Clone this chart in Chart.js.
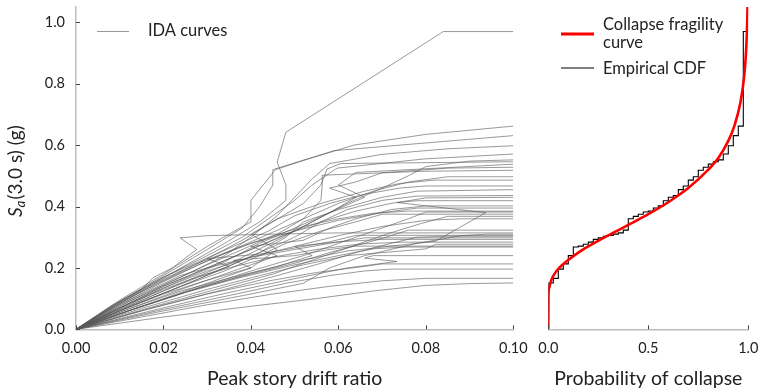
<!DOCTYPE html>
<html><head><meta charset="utf-8">
<script src="https://cdn.jsdelivr.net/npm/chart.js@4"></script>
<style>
html,body{margin:0;padding:0;background:#fff;width:759px;height:389px;overflow:hidden;}
#l{position:absolute;left:0;top:0;}
#r{position:absolute;left:530px;top:0;}
</style></head><body>
<canvas id="l" width="530" height="389"></canvas>
<canvas id="r" width="229" height="389"></canvas>
<script>
// ---- tick values ----
const driftTicks = [0, 0.02, 0.04, 0.06, 0.08, 0.10];
const saTicks = [0, 0.2, 0.4, 0.6, 0.8, 1.0];
const probTicks = [0, 0.5, 1.0];

// ---- collapse intensities (sorted), one per record ----
const collapseSa = [0.151,0.166,0.196,0.213,0.240,0.268,0.271,0.277,0.284,0.293,
  0.298,0.303,0.306,0.310,0.314,0.323,0.360,0.368,0.375,0.382,
  0.385,0.395,0.402,0.419,0.430,0.436,0.455,0.467,0.486,0.497,
  0.518,0.528,0.538,0.546,0.552,0.571,0.598,0.631,0.662,0.970];

// ---- fitted lognormal fragility curve ----
const fragProb = [0,0.001,0.005,0.01,0.02,0.04,0.07,0.10,0.15,0.20,0.30,0.40,0.50,0.60,0.70,0.80,0.85,0.90,0.93,0.96,0.98,0.99,0.995,0.997];
const fragSa   = [0,0.111,0.136,0.150,0.168,0.189,0.210,0.226,0.250,0.270,0.306,0.340,0.375,0.414,0.460,0.520,0.558,0.614,0.662,0.737,0.828,0.920,1.012,1.082];

// ---- IDA curves: [peak story drift ratio, Sa(3.0 s)] ----
const ida01 = [[0,0],[0.02,0.04],[0.04,0.075],[0.055,0.10],[0.068,0.125],[0.08,0.143],[0.09,0.149],[0.1,0.151]];
const ida02 = [[0,0],[0.015,0.04],[0.03,0.08],[0.045,0.115],[0.058,0.14],[0.07,0.158],[0.08,0.166],[0.1,0.166]];
const ida03 = [[0,0],[0.02,0.065],[0.035,0.11],[0.048,0.15],[0.058,0.175],[0.066,0.19],[0.072,0.196],[0.1,0.196]];
const ida04 = [[0,0],[0.015,0.06],[0.03,0.115],[0.045,0.16],[0.055,0.185],[0.066,0.205],[0.07,0.213],[0.1,0.213]];
const ida05 = [[0,0],[0.02,0.07],[0.035,0.12],[0.05,0.165],[0.062,0.20],[0.0734,0.221],[0.066,0.232],[0.068,0.240],[0.1,0.240]];
const ida06 = [[0,0],[0.012,0.06],[0.025,0.12],[0.038,0.17],[0.05,0.21],[0.06,0.24],[0.068,0.262],[0.075,0.268],[0.1,0.268]];
const ida07 = [[0,0],[0.01,0.06],[0.02,0.115],[0.03,0.16],[0.04,0.20],[0.036,0.225],[0.05,0.24],[0.058,0.26],[0.064,0.271],[0.1,0.271]];
const ida08 = [[0,0],[0.015,0.068],[0.03,0.13],[0.042,0.175],[0.052,0.21],[0.062,0.24],[0.08,0.262],[0.0822,0.277],[0.1,0.277]];
const ida09 = [[0,0],[0.01,0.07],[0.02,0.13],[0.0276,0.17],[0.035,0.20],[0.045,0.235],[0.055,0.26],[0.065,0.278],[0.075,0.284],[0.1,0.284]];
const ida10 = [[0,0],[0.012,0.066],[0.024,0.125],[0.036,0.17],[0.046,0.205],[0.054,0.24],[0.05,0.27],[0.06,0.285],[0.07,0.293],[0.1,0.293]];
const ida11 = [[0,0],[0.01,0.08],[0.018,0.135],[0.0238,0.175],[0.03,0.20],[0.04,0.235],[0.05,0.26],[0.058,0.28],[0.066,0.298],[0.1,0.298]];
const ida12 = [[0,0],[0.018,0.072],[0.034,0.13],[0.046,0.175],[0.056,0.215],[0.064,0.25],[0.072,0.28],[0.078,0.30],[0.085,0.303],[0.1,0.303]];
const ida13 = [[0,0],[0.01,0.065],[0.02,0.125],[0.028,0.17],[0.035,0.205],[0.03,0.23],[0.042,0.245],[0.05,0.265],[0.058,0.285],[0.064,0.306],[0.1,0.306]];
const ida14 = [[0,0],[0.02,0.06],[0.04,0.115],[0.052,0.15],[0.058,0.20],[0.066,0.24],[0.078,0.28],[0.088,0.305],[0.094,0.31],[0.1,0.31]];
const ida15 = [[0,0],[0.008,0.072],[0.015,0.13],[0.0176,0.168],[0.022,0.20],[0.0276,0.26],[0.0238,0.298],[0.03,0.305],[0.045,0.31],[0.06,0.314],[0.1,0.314]];
const ida16 = [[0,0],[0.014,0.07],[0.028,0.135],[0.04,0.18],[0.05,0.215],[0.058,0.25],[0.066,0.28],[0.072,0.305],[0.076,0.323],[0.1,0.323]];
const ida17 = [[0,0],[0.01,0.07],[0.02,0.135],[0.03,0.19],[0.04,0.235],[0.05,0.27],[0.06,0.305],[0.07,0.335],[0.08,0.355],[0.088,0.36],[0.1,0.36]];
const ida18 = [[0,0],[0.016,0.067],[0.032,0.13],[0.045,0.18],[0.055,0.23],[0.063,0.27],[0.071,0.31],[0.079,0.345],[0.085,0.368],[0.1,0.368]];
const ida19 = [[0,0],[0.012,0.072],[0.024,0.14],[0.034,0.19],[0.042,0.24],[0.048,0.28],[0.056,0.32],[0.064,0.35],[0.07,0.375],[0.1,0.375]];
const ida20 = [[0,0],[0.014,0.07],[0.028,0.135],[0.04,0.19],[0.052,0.24],[0.062,0.29],[0.07,0.33],[0.076,0.36],[0.08,0.382],[0.1,0.382]];
const ida21 = [[0,0],[0.008,0.068],[0.016,0.13],[0.024,0.185],[0.032,0.235],[0.04,0.28],[0.05,0.32],[0.06,0.355],[0.07,0.38],[0.078,0.395],[0.1,0.395]];
const ida22 = [[0,0],[0.012,0.066],[0.024,0.13],[0.036,0.19],[0.046,0.24],[0.04,0.27],[0.052,0.29],[0.058,0.33],[0.064,0.36],[0.072,0.39],[0.08,0.402],[0.1,0.402]];
const ida23 = [[0,0],[0.012,0.06],[0.025,0.12],[0.038,0.175],[0.05,0.22],[0.062,0.255],[0.0822,0.287],[0.0937,0.38],[0.0734,0.413],[0.078,0.419],[0.1,0.419]];
const ida24 = [[0,0],[0.01,0.07],[0.02,0.14],[0.03,0.20],[0.04,0.26],[0.048,0.31],[0.056,0.35],[0.064,0.385],[0.072,0.41],[0.08,0.428],[0.1,0.430]];
const ida25 = [[0,0],[0.012,0.072],[0.024,0.14],[0.034,0.20],[0.042,0.25],[0.048,0.30],[0.052,0.35],[0.06,0.39],[0.07,0.43],[0.078,0.45],[0.1,0.455]];
const ida26 = [[0,0],[0.008,0.076],[0.0147,0.129],[0.02,0.17],[0.028,0.22],[0.036,0.27],[0.044,0.32],[0.05,0.37],[0.058,0.41],[0.066,0.44],[0.074,0.46],[0.08,0.467],[0.1,0.467]];
const ida27 = [[0,0],[0.014,0.07],[0.028,0.14],[0.04,0.20],[0.046,0.26],[0.04,0.31],[0.046,0.36],[0.056,0.41],[0.066,0.45],[0.074,0.475],[0.082,0.486],[0.1,0.486]];
const ida28 = [[0,0],[0.01,0.075],[0.02,0.145],[0.03,0.21],[0.038,0.26],[0.046,0.31],[0.052,0.36],[0.06,0.41],[0.068,0.45],[0.076,0.48],[0.085,0.497],[0.1,0.497]];
const ida29 = [[0,0],[0.012,0.072],[0.024,0.14],[0.034,0.20],[0.042,0.25],[0.05,0.30],[0.056,0.35],[0.062,0.39],[0.07,0.42],[0.078,0.434],[0.1,0.436]];
const ida30 = [[0,0],[0.01,0.08],[0.02,0.155],[0.028,0.21],[0.036,0.26],[0.044,0.31],[0.052,0.36],[0.056,0.42],[0.0563,0.47],[0.0563,0.502],[0.0796,0.515],[0.1,0.518]];
const ida31 = [[0,0],[0.01,0.07],[0.02,0.14],[0.03,0.20],[0.04,0.26],[0.05,0.32],[0.058,0.38],[0.064,0.43],[0.058,0.46],[0.064,0.48],[0.07,0.51],[0.085,0.525],[0.1,0.528]];
const ida32 = [[0,0],[0.012,0.08],[0.024,0.16],[0.034,0.22],[0.042,0.28],[0.05,0.33],[0.058,0.38],[0.066,0.43],[0.06,0.47],[0.064,0.511],[0.1,0.538]];
const ida33 = [[0,0],[0.01,0.085],[0.02,0.16],[0.03,0.23],[0.038,0.29],[0.045,0.35],[0.052,0.41],[0.056,0.47],[0.0574,0.522],[0.0605,0.540],[0.1,0.546]];
const ida34 = [[0,0],[0.012,0.075],[0.024,0.15],[0.036,0.22],[0.046,0.29],[0.054,0.35],[0.062,0.41],[0.07,0.46],[0.076,0.50],[0.08,0.53],[0.09,0.548],[0.1,0.552]];
const ida35 = [[0,0],[0.009,0.08],[0.018,0.15],[0.027,0.21],[0.036,0.26],[0.044,0.30],[0.052,0.335],[0.06,0.36],[0.068,0.378],[0.076,0.385],[0.1,0.385]];
const ida36 = [[0,0],[0.01,0.09],[0.02,0.17],[0.03,0.24],[0.038,0.30],[0.044,0.36],[0.05,0.42],[0.054,0.47],[0.0597,0.525],[0.0796,0.555],[0.1,0.571]];
const ida37 = [[0,0],[0.012,0.09],[0.024,0.17],[0.034,0.24],[0.04,0.30],[0.046,0.37],[0.05,0.43],[0.054,0.49],[0.058,0.54],[0.07,0.57],[0.085,0.588],[0.1,0.598]];
const ida38 = [[0,0],[0.01,0.09],[0.02,0.175],[0.03,0.26],[0.038,0.33],[0.042,0.40],[0.045,0.47],[0.045,0.52],[0.059,0.582],[0.1,0.631]];
const ida39 = [[0,0],[0.01,0.095],[0.02,0.18],[0.03,0.27],[0.04,0.35],[0.04,0.42],[0.0456,0.52],[0.052,0.55],[0.0635,0.60],[0.08,0.635],[0.1,0.662]];
const ida40 = [[0,0],[0.012,0.10],[0.024,0.20],[0.034,0.28],[0.042,0.35],[0.048,0.42],[0.048,0.47],[0.046,0.545],[0.048,0.642],[0.084,0.97],[0.1,0.97]];
const idaCurves = [ida01,ida02,ida03,ida04,ida05,ida06,ida07,ida08,ida09,ida10,ida11,ida12,ida13,ida14,ida15,ida16,ida17,ida18,ida19,ida20,
  ida21,ida22,ida23,ida24,ida25,ida26,ida27,ida28,ida29,ida30,ida31,ida32,ida33,ida34,ida35,ida36,ida37,ida38,ida39,ida40];

// ---- styling ----
const FONT = 'Lato, "Open Sans", sans-serif';
const TXT = '#222';
const AXIS = '#bdbdbd';
const TICKMARK = '#444';
const L = {top: 7, bottom: 329.3};

function inwardTicks(chart, xVals, yVals) {
  const ctx = chart.ctx, a = chart.chartArea, xs = chart.scales.x, ys = chart.scales.y;
  ctx.save(); ctx.strokeStyle = TICKMARK; ctx.lineWidth = 1;
  ctx.beginPath();
  xVals.forEach(v => { const x = Math.round(xs.getPixelForValue(v)) + 0.5; ctx.moveTo(x, a.bottom); ctx.lineTo(x, a.bottom - 4); });
  (yVals || []).forEach(v => { const y = Math.round(ys.getPixelForValue(v)) + 0.5; ctx.moveTo(a.left, y); ctx.lineTo(a.left + 4, y); });
  ctx.stroke(); ctx.restore();
}

const leftDecor = {
  id: 'leftDecor',
  afterDraw(chart) {
    const ctx = chart.ctx, a = chart.chartArea;
    inwardTicks(chart, driftTicks, saTicks);
    ctx.save();
    ctx.fillStyle = TXT;
    ctx.font = '19.5px ' + FONT; ctx.textAlign = 'center'; ctx.textBaseline = 'alphabetic';
    ctx.fillText('Peak story drift ratio', (a.left + a.right) / 2, 385);
    // y title: S_a(3.0 s) (g)
    ctx.translate(16, (a.top + a.bottom) / 2 + 3);
    ctx.rotate(-Math.PI / 2);
    ctx.textAlign = 'left'; ctx.textBaseline = 'middle';
    const fMain = '19px ' + FONT, fIt = 'italic 19px ' + FONT, fSub = 'italic 13.5px ' + FONT;
    ctx.font = fIt; const wS = ctx.measureText('S').width;
    ctx.font = fSub; const wA = ctx.measureText('a').width;
    ctx.font = fMain; const wR = ctx.measureText('(3.0 s) (g)').width;
    let x0 = -(wS + wA + 1 + wR) / 2;
    ctx.font = fIt; ctx.fillText('S', x0, 0); x0 += wS;
    ctx.font = fSub; ctx.fillText('a', x0, 5); x0 += wA + 1;
    ctx.font = fMain; ctx.fillText('(3.0 s) (g)', x0, 0);
    ctx.restore();
    // legend
    ctx.save();
    ctx.strokeStyle = '#9a9a9a'; ctx.lineWidth = 1;
    ctx.beginPath(); ctx.moveTo(97, 31.5); ctx.lineTo(129, 31.5); ctx.stroke();
    ctx.fillStyle = TXT; ctx.font = '16.5px ' + FONT; ctx.textAlign = 'left'; ctx.textBaseline = 'middle';
    ctx.fillText('IDA curves', 148, 31);
    ctx.restore();
  }
};

const rightDecor = {
  id: 'rightDecor',
  afterDraw(chart) {
    const ctx = chart.ctx, a = chart.chartArea;
    inwardTicks(chart, probTicks, null);
    ctx.save();
    ctx.fillStyle = TXT;
    ctx.font = '19.5px ' + FONT; ctx.textAlign = 'center'; ctx.textBaseline = 'alphabetic';
    ctx.fillText('Probability of collapse', (a.left + a.right) / 2, 385);
    // legend
    ctx.strokeStyle = '#ff0000'; ctx.lineWidth = 3;
    ctx.beginPath(); ctx.moveTo(31, 34); ctx.lineTo(64, 34); ctx.stroke();
    ctx.strokeStyle = '#000'; ctx.lineWidth = 1.2;
    ctx.beginPath(); ctx.moveTo(31, 68); ctx.lineTo(64, 68); ctx.stroke();
    ctx.font = '16.5px ' + FONT; ctx.textAlign = 'left'; ctx.textBaseline = 'middle';
    ctx.fillText('Collapse fragility', 73, 25);
    ctx.fillText('curve', 73, 43);
    ctx.fillText('Empirical CDF', 73, 69);
    ctx.restore();
  }
};

function tickFont() { return {family: FONT, size: 14.5}; }

// ---- left chart: IDA curves ----
new Chart(document.getElementById('l'), {
  type: 'line',
  data: {
    datasets: idaCurves.map(c => ({
      data: c.map(p => ({x: p[0], y: p[1]})),
      borderColor: 'rgba(90,90,90,0.62)', borderWidth: 1, pointRadius: 0, tension: 0, fill: false
    }))
  },
  options: {
    responsive: false, animation: false, events: [],
    layout: {padding: {top: L.top, right: 530 - 513.3, bottom: 0, left: 0}},
    plugins: {legend: {display: false}, tooltip: {enabled: false}},
    scales: {
      x: {
        type: 'linear', min: 0, max: 0.1,
        afterBuildTicks: s => { s.ticks = driftTicks.map(v => ({value: v})); },
        afterFit: s => { s.height = 389 - L.bottom; s.paddingLeft = 0; s.paddingRight = 0; },
        ticks: {callback: v => v.toFixed(2), font: tickFont(), color: TXT, padding: 10, maxRotation: 0, autoSkip: false},
        grid: {drawOnChartArea: false, drawTicks: false},
        border: {color: AXIS, width: 1.5}
      },
      y: {
        type: 'linear', min: 0, max: 1.05,
        afterBuildTicks: s => { s.ticks = saTicks.map(v => ({value: v})); },
        afterFit: s => { s.width = 76; s.paddingTop = 0; s.paddingBottom = 0; },
        ticks: {callback: v => v.toFixed(1), font: tickFont(), color: TXT, padding: 11, autoSkip: false},
        grid: {drawOnChartArea: false, drawTicks: false},
        border: {color: AXIS, width: 1.5}
      }
    }
  },
  plugins: [leftDecor]
});

// ---- right chart: fragility ----
const ecdf = [{x: 0, y: 0}];
collapseSa.forEach((s, i) => { ecdf.push({x: i / collapseSa.length, y: s}); ecdf.push({x: (i + 1) / collapseSa.length, y: s}); });

new Chart(document.getElementById('r'), {
  type: 'line',
  data: {
    datasets: [
      {data: fragProb.map((p, i) => ({x: p, y: fragSa[i]})), borderColor: '#ff0000', borderWidth: 2.6,
       pointRadius: 0, cubicInterpolationMode: 'monotone', fill: false, order: 0},
      {data: ecdf, borderColor: '#000', borderWidth: 1.1, pointRadius: 0, tension: 0, fill: false, order: 1}
    ]
  },
  options: {
    responsive: false, animation: false, events: [],
    layout: {padding: {top: L.top, right: 229 - 218.3, bottom: 0, left: 18.3}},
    plugins: {legend: {display: false}, tooltip: {enabled: false}},
    scales: {
      x: {
        type: 'linear', min: 0, max: 1,
        afterBuildTicks: s => { s.ticks = probTicks.map(v => ({value: v})); },
        afterFit: s => { s.height = 389 - L.bottom; s.paddingLeft = 0; s.paddingRight = 0; },
        ticks: {callback: v => v.toFixed(1), font: tickFont(), color: TXT, padding: 10, maxRotation: 0, autoSkip: false},
        grid: {drawOnChartArea: false, drawTicks: false},
        border: {color: AXIS, width: 1.5}
      },
      y: {
        type: 'linear', min: 0, max: 1.05, display: false,
        afterFit: s => { s.width = 0; s.paddingTop = 0; s.paddingBottom = 0; }
      }
    }
  },
  plugins: [rightDecor]
});
</script>
</body></html>
